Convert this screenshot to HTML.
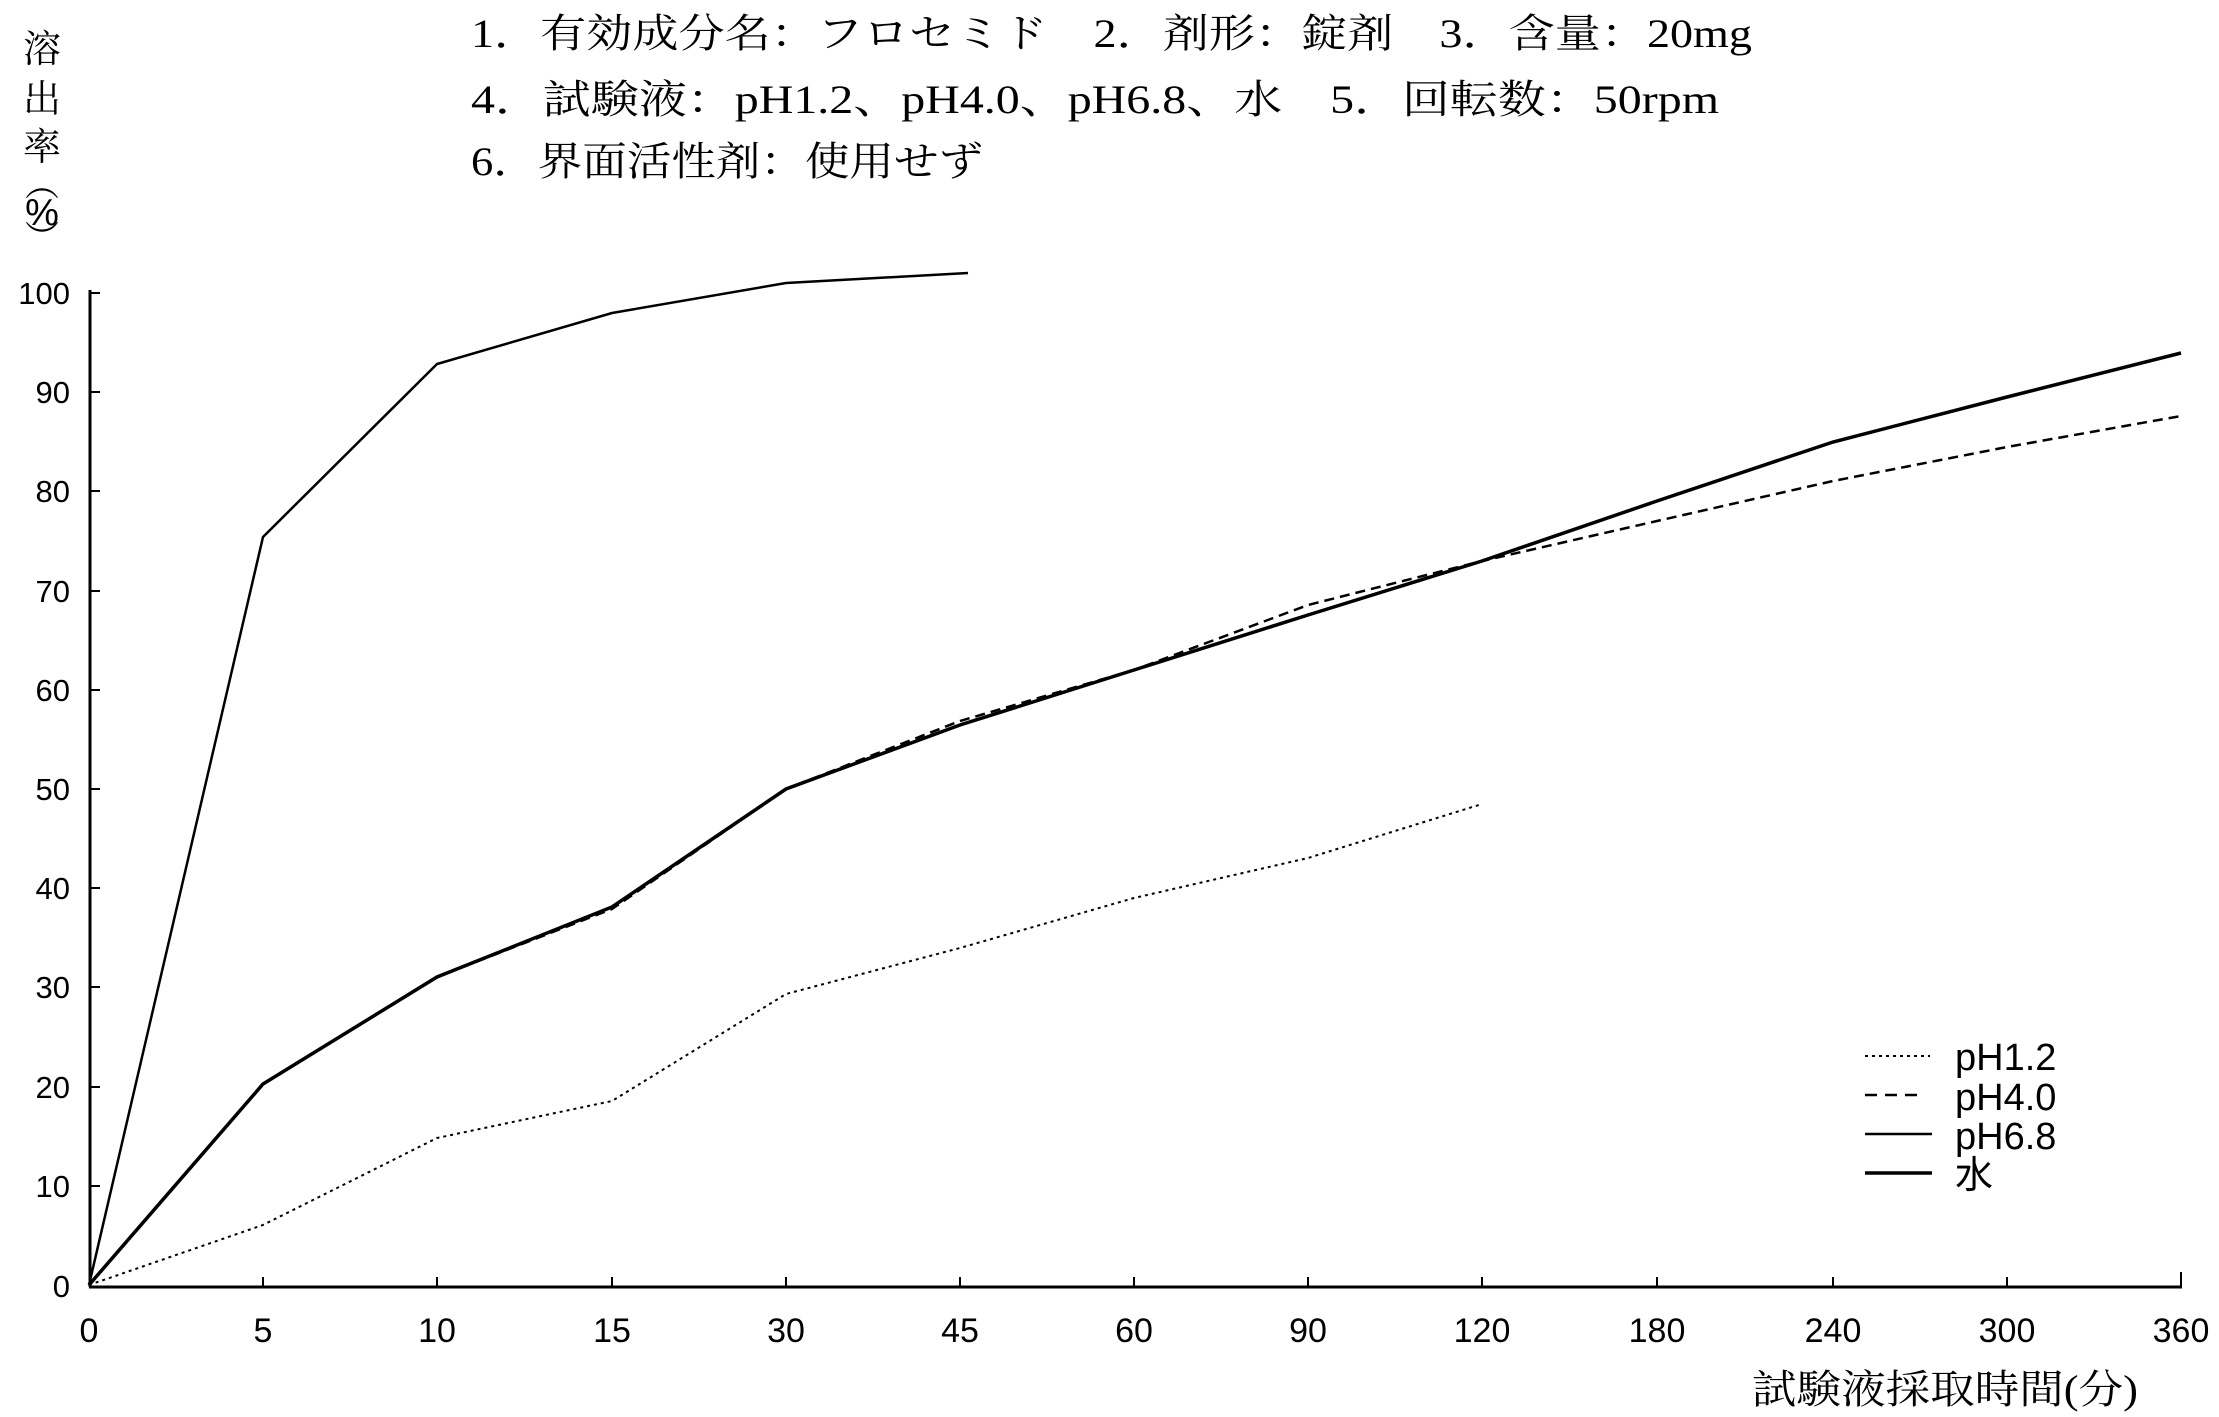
<!DOCTYPE html>
<html><head><meta charset="utf-8"><style>
html,body{margin:0;padding:0;background:#fff;}
svg{display:block;}
text{font-family:"Liberation Serif","Noto Serif CJK SC","Noto Sans CJK JP",serif;fill:#000;}
.s{font-family:"Liberation Sans","Noto Sans CJK JP",sans-serif;}
</style></head><body>
<svg width="2219" height="1417" viewBox="0 0 2219 1417" xmlns="http://www.w3.org/2000/svg">
<rect width="2219" height="1417" fill="#fff"/>
<text x="471" y="47" font-size="40" textLength="1281" lengthAdjust="spacingAndGlyphs">1．有効成分名：フロセミド　2．剤形：錠剤　3．含量：20mg</text>
<text x="471" y="113" font-size="40" textLength="1248" lengthAdjust="spacingAndGlyphs">4．試験液：pH1.2、pH4.0、pH6.8、水　5．回転数：50rpm</text>
<text x="471" y="175" font-size="40" textLength="512" lengthAdjust="spacingAndGlyphs">6．界面活性剤：使用せず</text>
<g font-size="38" text-anchor="middle">
<text x="42" y="62">溶</text>
<text x="42" y="112">出</text>
<text x="42" y="160">率</text>
<text x="42" y="196" font-family="Noto Sans CJK JP, sans-serif" font-size="34">︵</text>
<text x="42" y="225" class="s" font-size="38">%</text>
<text x="42" y="250" font-family="Noto Sans CJK JP, sans-serif" font-size="34">︶</text>
</g>
<line x1="90" y1="290" x2="90" y2="1287" stroke="#000" stroke-width="3"/>
<line x1="89" y1="1287" x2="2182" y2="1287" stroke="#000" stroke-width="3"/>
<g stroke="#000" stroke-width="2">
<line x1="90" y1="293" x2="100" y2="293"/><line x1="90" y1="392" x2="100" y2="392"/>
<line x1="90" y1="491" x2="100" y2="491"/><line x1="90" y1="591" x2="100" y2="591"/>
<line x1="90" y1="690" x2="100" y2="690"/><line x1="90" y1="789" x2="100" y2="789"/>
<line x1="90" y1="888" x2="100" y2="888"/><line x1="90" y1="987" x2="100" y2="987"/>
<line x1="90" y1="1087" x2="100" y2="1087"/><line x1="90" y1="1186" x2="100" y2="1186"/>
</g>
<g stroke="#000" stroke-width="2">
<line x1="263" y1="1287" x2="263" y2="1277"/><line x1="437" y1="1287" x2="437" y2="1277"/>
<line x1="612" y1="1287" x2="612" y2="1277"/><line x1="786" y1="1287" x2="786" y2="1277"/>
<line x1="960" y1="1287" x2="960" y2="1277"/><line x1="1134" y1="1287" x2="1134" y2="1277"/>
<line x1="1308" y1="1287" x2="1308" y2="1277"/><line x1="1482" y1="1287" x2="1482" y2="1277"/>
<line x1="1657" y1="1287" x2="1657" y2="1277"/><line x1="1833" y1="1287" x2="1833" y2="1277"/>
<line x1="2007" y1="1287" x2="2007" y2="1277"/><line x1="2181" y1="1287" x2="2181" y2="1272"/>
</g>
<g class="s" font-size="31" text-anchor="end">
<text x="70" y="304" class="s">100</text><text x="70" y="403" class="s">90</text>
<text x="70" y="502" class="s">80</text><text x="70" y="602" class="s">70</text>
<text x="70" y="701" class="s">60</text><text x="70" y="800" class="s">50</text>
<text x="70" y="899" class="s">40</text><text x="70" y="998" class="s">30</text>
<text x="70" y="1098" class="s">20</text><text x="70" y="1197" class="s">10</text>
<text x="70" y="1297" class="s">0</text>
</g>
<g font-size="34" text-anchor="middle">
<text x="89" y="1342" class="s">0</text><text x="263" y="1342" class="s">5</text>
<text x="437" y="1342" class="s">10</text><text x="612" y="1342" class="s">15</text>
<text x="786" y="1342" class="s">30</text><text x="960" y="1342" class="s">45</text>
<text x="1134" y="1342" class="s">60</text><text x="1308" y="1342" class="s">90</text>
<text x="1482" y="1342" class="s">120</text><text x="1657" y="1342" class="s">180</text>
<text x="1833" y="1342" class="s">240</text><text x="2007" y="1342" class="s">300</text>
<text x="2181" y="1342" class="s">360</text>
</g>
<text x="1752" y="1403" font-size="40" textLength="386" lengthAdjust="spacingAndGlyphs">試験液採取時間(分)</text>
<polyline fill="none" stroke="#000" stroke-width="2.5" points="89,1285 263,537 437,364 612,313 786,283 968,273"/>
<polyline fill="none" stroke="#000" stroke-width="2.5" stroke-dasharray="10,6" points="89,1285 263,1084 437,977 612,909 786,789 960,721 1134,670 1308,605 1482,561 1657,521 1833,481 2007,447 2181,416"/>
<polyline fill="none" stroke="#000" stroke-width="3.5" points="89,1285 263,1084 437,977 612,907 786,789 960,725 1134,670 1308,615 1482,561 1657,501 1833,442 2007,397 2181,353"/>
<polyline fill="none" stroke="#000" stroke-width="2" stroke-dasharray="3,4" points="89,1285 263,1225 437,1138 612,1101 786,994 960,948 1134,898 1308,858 1482,804"/>
<line x1="1865" y1="1056" x2="1930" y2="1056" stroke="#000" stroke-width="2" stroke-dasharray="3,4"/>
<line x1="1865" y1="1095" x2="1925" y2="1095" stroke="#000" stroke-width="2.5" stroke-dasharray="12,8"/>
<line x1="1865" y1="1134" x2="1932" y2="1134" stroke="#000" stroke-width="2.5"/>
<line x1="1865" y1="1173" x2="1932" y2="1173" stroke="#000" stroke-width="3.5"/>
<g class="s" font-size="38">
<text x="1955" y="1070" class="s">pH1.2</text>
<text x="1955" y="1110" class="s">pH4.0</text>
<text x="1955" y="1149" class="s">pH6.8</text>
<text x="1955" y="1188" class="s">水</text>
</g>
</svg>
</body></html>
